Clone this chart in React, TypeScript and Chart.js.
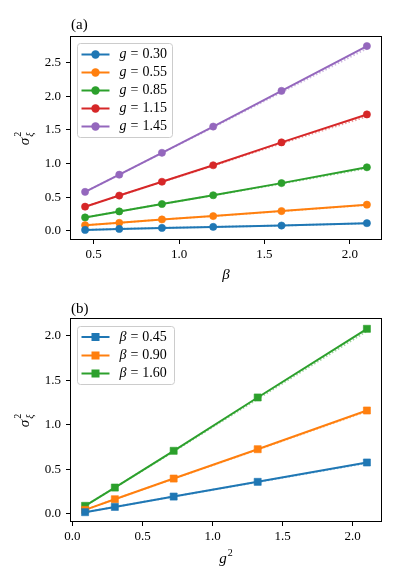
import React, { useEffect, useRef } from "react";
import { Chart, registerables } from "chart.js";

Chart.register(...registerables);

// ---------- DATA (panel a) ----------
const BETA = [0.45, 0.65, 0.9, 1.2, 1.6, 2.1];
const G_LABELS = ["0.30", "0.55", "0.85", "1.15", "1.45"];
const SIG_G030 = [0.015, 0.03, 0.045, 0.06, 0.08, 0.115];
const SIG_G055 = [0.085, 0.12, 0.17, 0.22, 0.295, 0.39];
const SIG_G085 = [0.2, 0.29, 0.4, 0.53, 0.71, 0.945];
const SIG_G115 = [0.36, 0.525, 0.73, 0.975, 1.315, 1.73];
const SIG_G145 = [0.58, 0.835, 1.16, 1.55, 2.08, 2.745];
const THEO_G030 = [0.015, 0.03, 0.045, 0.06, 0.08, 0.113];
const THEO_G055 = [0.085, 0.12, 0.17, 0.22, 0.293, 0.385];
const THEO_G085 = [0.2, 0.29, 0.4, 0.528, 0.702, 0.93];
const THEO_G115 = [0.36, 0.525, 0.728, 0.968, 1.3, 1.7];
const THEO_G145 = [0.58, 0.835, 1.158, 1.54, 2.06, 2.71];
const A_XTICKS = [0.5, 1.0, 1.5, 2.0];
const A_YTICKS = [0.0, 0.5, 1.0, 1.5, 2.0, 2.5];

// ---------- DATA (panel b) ----------
const G2 = [0.09, 0.3025, 0.7225, 1.3225, 2.1025];
const B_LABELS = ["0.45", "0.90", "1.60"];
const SIG_B045 = [0.019, 0.078, 0.194, 0.359, 0.576];
const SIG_B090 = [0.045, 0.164, 0.396, 0.725, 1.159];
const SIG_B160 = [0.09, 0.295, 0.707, 1.305, 2.075];
const THEO_B045 = [0.019, 0.078, 0.194, 0.357, 0.57];
const THEO_B090 = [0.045, 0.164, 0.394, 0.72, 1.15];
const THEO_B160 = [0.09, 0.295, 0.7, 1.29, 2.05];
const B_XTICKS = [0.0, 0.5, 1.0, 1.5, 2.0];
const B_YTICKS = [0.0, 0.5, 1.0, 1.5, 2.0];

const COLORS = ["#1f77b4", "#ff7f0e", "#2ca02c", "#d62728", "#9467bd"];
const FONT = "'Liberation Serif', 'DejaVu Serif', serif";

function alpha(hex: string, a: number) {
  const r = parseInt(hex.slice(1, 3), 16);
  const g = parseInt(hex.slice(3, 5), 16);
  const b = parseInt(hex.slice(5, 7), 16);
  return `rgba(${r},${g},${b},${a})`;
}

type PanelCfg = {
  xs: number[];
  series: number[][];
  theory: number[][];
  labels: string[];
  legendVar: string;
  pointStyle: string;
  pointRadius: number;
  xTicks: number[];
  yTicks: number[];
  xMin: number;
  xMax: number;
  yMin: number;
  yMax: number;
  width: number;
  height: number;
  area: { left: number; right: number; top: number; bottom: number };
  panelLabel: string;
  panelLabelY: number;
  xTitle: string;
  xTitleSup?: string;
  xTitleY: number;
  yTitleX: number;
  legendBox: { x: number; y: number; w: number; h: number };
  legendRows: number[];
};

function italic(size: number) {
  return `italic ${size}px ${FONT}`;
}
function roman(size: number) {
  return `${size}px ${FONT}`;
}

function makePlugin(cfg: PanelCfg) {
  return {
    id: "decor",
    afterDraw(chart: any) {
      const ctx = chart.ctx as CanvasRenderingContext2D;
      const a = chart.chartArea;
      ctx.save();
      // frame
      ctx.strokeStyle = "#000";
      ctx.lineWidth = 1;
      ctx.strokeRect(Math.round(a.left) - 0.5, Math.round(a.top) - 0.5, Math.round(a.right - a.left) + 1, Math.round(a.bottom - a.top) + 1);

      // panel label
      ctx.fillStyle = "#000";
      ctx.font = roman(15);
      ctx.textAlign = "left";
      ctx.textBaseline = "middle";
      ctx.fillText(cfg.panelLabel, a.left, cfg.panelLabelY);

      // x title
      const cx = (a.left + a.right) / 2;
      ctx.font = italic(15);
      const w1 = ctx.measureText(cfg.xTitle).width;
      let supW = 0;
      if (cfg.xTitleSup) {
        ctx.font = roman(10);
        supW = ctx.measureText(cfg.xTitleSup).width + 1;
      }
      const startX = cx - (w1 + supW) / 2;
      ctx.font = italic(15);
      ctx.textAlign = "left";
      ctx.fillText(cfg.xTitle, startX, cfg.xTitleY);
      if (cfg.xTitleSup) {
        ctx.font = roman(10);
        ctx.fillText(cfg.xTitleSup, startX + w1 + 1, cfg.xTitleY - 6);
      }

      // y title: sigma^2_xi rotated
      const cy = (a.top + a.bottom) / 2;
      ctx.save();
      ctx.translate(cfg.yTitleX, cy);
      ctx.rotate(-Math.PI / 2);
      ctx.font = italic(15);
      const sw = ctx.measureText("σ").width;
      const tot = sw + 7;
      const sx = -tot / 2;
      ctx.textAlign = "left";
      ctx.textBaseline = "alphabetic";
      ctx.fillText("σ", sx, 4);
      ctx.font = roman(10);
      ctx.fillText("2", sx + sw + 1, -4);
      ctx.font = italic(10);
      ctx.fillText("ξ", sx + sw + 1, 8);
      ctx.restore();

      // legend
      const lb = cfg.legendBox;
      ctx.beginPath();
      const r = 3;
      ctx.moveTo(lb.x + r, lb.y);
      ctx.arcTo(lb.x + lb.w, lb.y, lb.x + lb.w, lb.y + lb.h, r);
      ctx.arcTo(lb.x + lb.w, lb.y + lb.h, lb.x, lb.y + lb.h, r);
      ctx.arcTo(lb.x, lb.y + lb.h, lb.x, lb.y, r);
      ctx.arcTo(lb.x, lb.y, lb.x + lb.w, lb.y, r);
      ctx.closePath();
      ctx.fillStyle = "rgba(255,255,255,0.8)";
      ctx.fill();
      ctx.strokeStyle = "#cccccc";
      ctx.lineWidth = 1;
      ctx.stroke();

      cfg.labels.forEach((lab, i) => {
        const y = cfg.legendRows[i];
        const col = COLORS[i];
        ctx.strokeStyle = col;
        ctx.lineWidth = 2;
        ctx.beginPath();
        ctx.moveTo(lb.x + 4, y);
        ctx.lineTo(lb.x + 32, y);
        ctx.stroke();
        ctx.fillStyle = col;
        const mx = lb.x + 18;
        if (cfg.pointStyle === "rect") {
          ctx.fillRect(mx - 4, y - 4, 8, 8);
        } else {
          ctx.beginPath();
          ctx.arc(mx, y, 4.2, 0, Math.PI * 2);
          ctx.fill();
        }
        ctx.fillStyle = "#000";
        ctx.textBaseline = "middle";
        let tx = lb.x + 42;
        ctx.font = italic(14);
        ctx.fillText(cfg.legendVar, tx, y);
        tx += ctx.measureText(cfg.legendVar).width + 4;
        ctx.font = roman(14);
        ctx.fillText("=", tx, y);
        tx += ctx.measureText("=").width + 4;
        ctx.fillText(lab, tx, y);
      });
      ctx.restore();
    },
  };
}

function Panel({ cfg }: { cfg: PanelCfg }) {
  const ref = useRef<HTMLCanvasElement | null>(null);
  useEffect(() => {
    if (!ref.current) return;
    const datasets: any[] = [];
    cfg.series.forEach((s, i) => {
      datasets.push({
        data: cfg.xs.map((x, k) => ({ x, y: s[k] })),
        borderColor: COLORS[i],
        backgroundColor: COLORS[i],
        borderWidth: 2,
        pointRadius: cfg.pointRadius,
        pointHoverRadius: cfg.pointRadius,
        pointBorderWidth: 1,
        pointBorderColor: alpha(COLORS[i], 0.6),
        pointBackgroundColor: COLORS[i],
        pointStyle: cfg.pointStyle,
        tension: 0,
        order: 1,
      });
    });
    cfg.theory.forEach((s, i) => {
      datasets.push({
        data: cfg.xs.map((x, k) => ({ x, y: s[k] })),
        borderColor: alpha(COLORS[i], 0.45),
        borderWidth: 2,
        borderDash: [1.5, 2],
        pointRadius: 0,
        tension: 0,
        order: 2,
      });
    });
    const W = cfg.width;
    const H = cfg.height;
    const chart = new Chart(ref.current, {
      type: "line",
      data: { datasets },
      options: {
        animation: false,
        responsive: false,
        devicePixelRatio: 1,
        layout: { padding: { top: cfg.area.top, right: W - cfg.area.right, left: 0, bottom: 0 } },
        plugins: { legend: { display: false }, tooltip: { enabled: false } },
        scales: {
          x: {
            type: "linear",
            min: cfg.xMin,
            max: cfg.xMax,
            afterFit: (s: any) => {
              s.height = H - cfg.area.bottom;
            },
            afterBuildTicks: (s: any) => {
              s.ticks = cfg.xTicks.map((v) => ({ value: v }));
            },
            ticks: {
              callback: (v: any) => Number(v).toFixed(1),
              font: { family: FONT, size: 13 },
              color: "#000",
              padding: 3,
              maxRotation: 0,
            },
            grid: { drawOnChartArea: false, drawTicks: true, tickLength: 5, color: "#000", lineWidth: 1 },
            border: { display: false },
          },
          y: {
            type: "linear",
            min: cfg.yMin,
            max: cfg.yMax,
            afterFit: (s: any) => {
              s.width = cfg.area.left;
            },
            afterBuildTicks: (s: any) => {
              s.ticks = cfg.yTicks.map((v) => ({ value: v }));
            },
            ticks: {
              callback: (v: any) => Number(v).toFixed(1),
              font: { family: FONT, size: 13 },
              color: "#000",
              padding: 5,
            },
            grid: { drawOnChartArea: false, drawTicks: true, tickLength: 5, color: "#000", lineWidth: 1 },
            border: { display: false },
          },
        },
      },
      plugins: [makePlugin(cfg)],
    } as any);
    return () => chart.destroy();
  }, [cfg]);
  return <canvas ref={ref} width={cfg.width} height={cfg.height} style={{ display: "block", width: cfg.width, height: cfg.height }} />;
}

const CFG_A: PanelCfg = {
  xs: BETA,
  series: [SIG_G030, SIG_G055, SIG_G085, SIG_G115, SIG_G145],
  theory: [THEO_G030, THEO_G055, THEO_G085, THEO_G115, THEO_G145],
  labels: G_LABELS,
  legendVar: "g",
  pointStyle: "circle",
  pointRadius: 3.6,
  xTicks: A_XTICKS,
  yTicks: A_YTICKS,
  xMin: 0.3675,
  xMax: 2.1825,
  yMin: -0.12,
  yMax: 2.88,
  width: 396,
  height: 291,
  area: { left: 71, right: 381, top: 37, bottom: 239 },
  panelLabel: "(a)",
  panelLabelY: 25,
  xTitle: "β",
  xTitleY: 275,
  yTitleX: 25,
  legendBox: { x: 77.5, y: 43.5, w: 95, h: 94 },
  legendRows: [54.5, 72.5, 90.5, 108.5, 126.5],
};

const CFG_B: PanelCfg = {
  xs: G2,
  series: [SIG_B045, SIG_B090, SIG_B160],
  theory: [THEO_B045, THEO_B090, THEO_B160],
  labels: B_LABELS,
  legendVar: "β",
  pointStyle: "rect",
  pointRadius: 5,
  xTicks: B_XTICKS,
  yTicks: B_YTICKS,
  xMin: -0.0106,
  xMax: 2.2031,
  yMin: -0.08,
  yMax: 2.185,
  width: 396,
  height: 292,
  area: { left: 71, right: 381, top: 28, bottom: 230 },
  panelLabel: "(b)",
  panelLabelY: 18,
  xTitle: "g",
  xTitleSup: "2",
  xTitleY: 268,
  yTitleX: 25,
  legendBox: { x: 77.5, y: 35.5, w: 97, h: 58 },
  legendRows: [46, 64.5, 82.5],
};

export default function App() {
  return (
    <div style={{ position: "absolute", left: 0, top: 0, width: 396, height: 583, background: "#fff" }}>
      <Panel cfg={CFG_A} />
      <Panel cfg={CFG_B} />
    </div>
  );
}
